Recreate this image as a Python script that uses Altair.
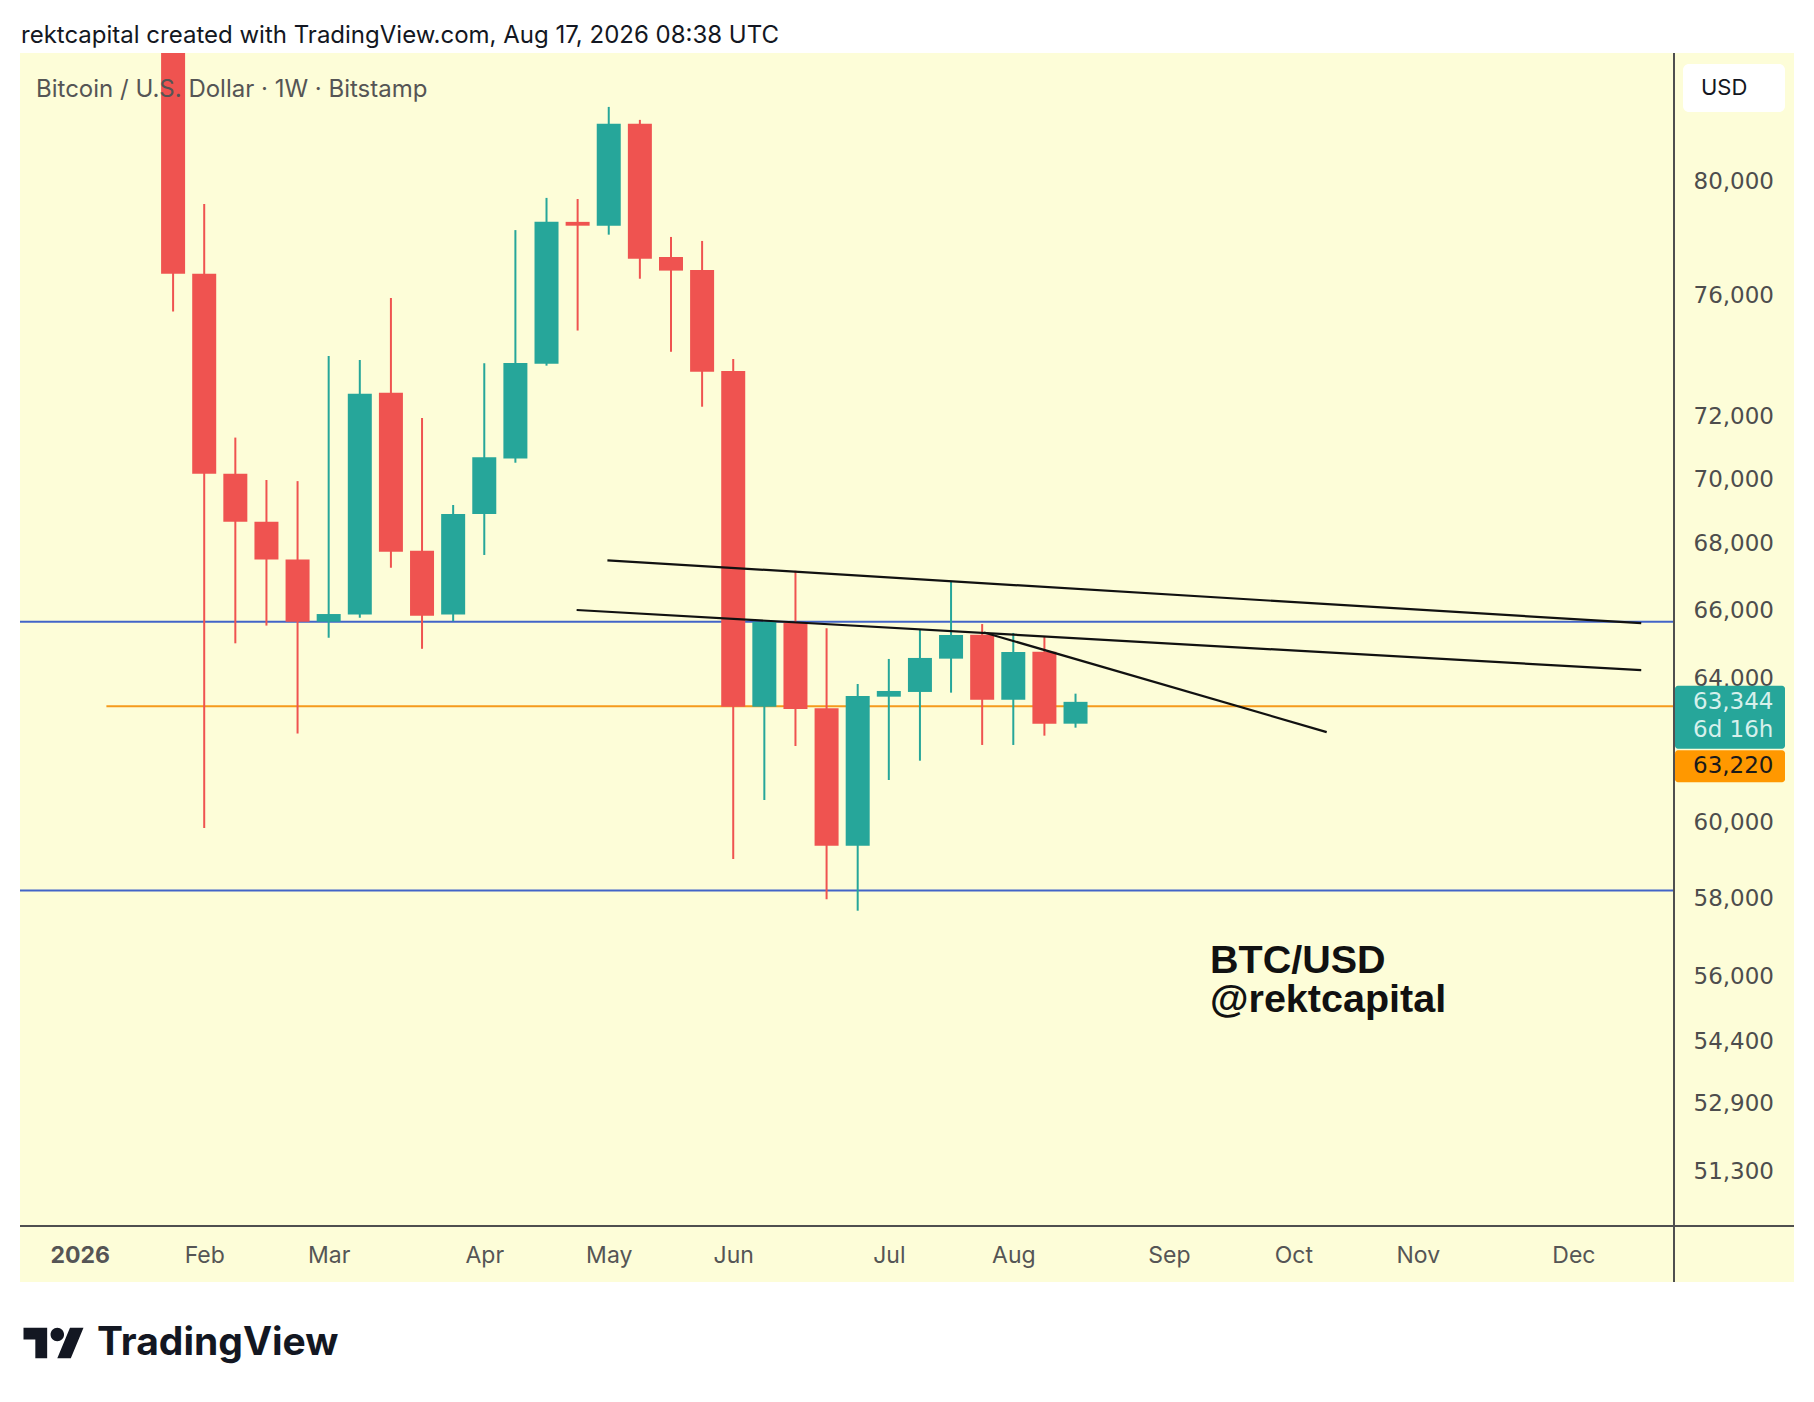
import altair as alt
import pandas as pd

# ---------------- data ----------------
weeks = ["2026-01-26", "2026-02-02", "2026-02-09", "2026-02-16", "2026-02-23",
         "2026-03-02", "2026-03-09", "2026-03-16", "2026-03-23", "2026-03-30",
         "2026-04-06", "2026-04-13", "2026-04-20", "2026-04-27", "2026-05-04",
         "2026-05-11", "2026-05-18", "2026-05-25", "2026-06-01", "2026-06-08",
         "2026-06-15", "2026-06-22", "2026-06-29", "2026-07-06", "2026-07-13",
         "2026-07-20", "2026-07-27", "2026-08-03", "2026-08-10", "2026-08-17"]
opens = [87500, 76760, 70170, 68680, 67520, 65665, 65880, 72770, 67790, 65880,
         68915, 70650, 73720, 78570, 78435, 82110, 77340, 76890, 73485, 63206,
         65634, 63161, 59383, 63491, 63626, 64584, 65282, 63406, 64787, 62726]
highs = [89500, 79200, 71320, 69975, 69940, 73980, 73850, 75930, 71950, 69195,
         73740, 78280, 79420, 79380, 82730, 82250, 78040, 77900, 73880, 65700,
         67183, 65469, 63854, 64575, 65449, 66853, 65595, 65333, 65244, 63577]
lows = [75470, 59860, 65030, 65550, 62450, 65195, 65780, 67270, 64870, 65680,
        67660, 70520, 73660, 74830, 78120, 76590, 74120, 72315, 59030, 60614,
        62101, 57972, 57676, 61161, 61693, 63606, 62130, 62130, 62390, 62614]
closes = [76760, 70170, 68680, 67520, 65665, 65890, 72740, 67760, 65840, 68915,
          70690, 73750, 78570, 78435, 82110, 77280, 76870, 73460, 63206, 65665,
          63141, 59383, 63511, 63654, 64604, 65273, 63406, 64778, 62726, 63344]

blue_levels = [65665, 58200]
orange_level = [63220]
orange_start = ["2026-01-11T00:00:00Z"]
last_price = [63344]
countdown = "6d 16h"

trend_start_dates = ["2026-05-03T16:48:00Z", "2026-04-26T18:30:00Z", "2026-07-27T10:20:00Z"]
trend_start_prices = [67498, 66009, 65347]
trend_end_dates = ["2026-12-22T06:00:00Z", "2026-12-22T06:00:00Z", "2026-10-12T12:00:00Z"]
trend_end_prices = [65620, 64250, 62490]

y_ticks = [80000, 76000, 72000, 70000, 68000, 66000, 64000, 60000, 58000,
           56000, 54400, 52900, 51300]
month_ticks = ["2026-01-05", "2026-02-02", "2026-03-02", "2026-04-06", "2026-05-04",
               "2026-06-01", "2026-07-06", "2026-08-03", "2026-09-07", "2026-10-05",
               "2026-11-02", "2026-12-07"]

header = "rektcapital created with TradingView.com, Aug 17, 2026 08:38 UTC"
symbol_title = "Bitcoin / U.S. Dollar · 1W · Bitstamp"
note_lines = ["BTC/USD", "@rektcapital"]

# ---------------- helpers ----------------
def ms(s):
    t = pd.Timestamp(s)
    if t.tzinfo is None:
        t = t.tz_localize("UTC")
    return int(t.value // 10**6)

W, H = 1654, 1173
PL, PT, PR, PB = 12, 45, 120, 150
GREEN = "#26a69a"
RED = "#ef5350"
BLUE = "#4264c8"
ORANGE = "#f59a1c"
BG = "#fdfdd8"
AXC = "#4f4f4f"

x_scale = alt.Scale(type="utc", domain=[ms("2025-12-23T16:30:00Z"), ms("2026-12-28T12:00:00Z")])
y_scale = alt.Scale(type="log", domain=[50066, 84756], nice=False, zero=False)

x_axis = alt.Axis(
    values=[ms(d) for d in month_ticks],
    labelExpr="utcmonth(datum.value) == 0 ? utcFormat(datum.value, '%Y') : utcFormat(datum.value, '%b')",
    labelFontWeight={"condition": {"test": "utcmonth(datum.value) == 0", "value": "bold"}, "value": "normal"},
    labelFont="Inter", labelFontSize=23, labelColor="#555555",
    labelPadding=29, labelBaseline="middle", labelAlign="center",
    ticks=False, tickSize=0, domain=False, grid=False, title=None,
    labelOverlap=False, labelFlush=False, zindex=0)
y_axis = alt.Axis(
    values=y_ticks, format=",d", orient="right",
    labelFont="DejaVu Sans", labelFontSize=23, labelColor="#4d4d4d",
    labelPadding=19, labelAlign="left", labelBaseline="middle",
    ticks=False, tickSize=0, domain=False, grid=False, title=None,
    labelOverlap=False, labelFlush=False, zindex=0)

candles = pd.DataFrame({"week": weeks, "open": opens, "high": highs,
                        "low": lows, "close": closes})
candles["dir"] = ["up" if c >= o else "down" for o, c in zip(opens, closes)]
dir_color = alt.Color("dir:N", scale=alt.Scale(domain=["up", "down"], range=[GREEN, RED]), legend=None)

one = pd.DataFrame({"a": [0]})

def xq(field):
    return alt.X(field, type="temporal", scale=x_scale, axis=x_axis)

def yq(field):
    return alt.Y(field, type="quantitative", scale=y_scale, axis=y_axis)

# white surroundings (chart background is the yellow of the TradingView pane)
white_top = alt.Chart(one).mark_rect(color="white").encode(
    x=alt.value(-PL), x2=alt.value(W + PR), y=alt.value(-PT), y2=alt.value(0))
white_left = alt.Chart(one).mark_rect(color="white").encode(
    x=alt.value(-PL), x2=alt.value(0), y=alt.value(-PT), y2=alt.value(H + PB))
white_bottom = alt.Chart(one).mark_rect(color="white").encode(
    x=alt.value(-PL), x2=alt.value(W + PR), y=alt.value(1229), y2=alt.value(H + PB))

blue_lines = alt.Chart(pd.DataFrame({"level": blue_levels})).mark_rule(
    color=BLUE, strokeWidth=2).encode(y=yq("level"), x=alt.value(0), x2=alt.value(W))

orange_line = alt.Chart(pd.DataFrame({"level": orange_level, "start": orange_start})).mark_rule(
    color=ORANGE, strokeWidth=2).encode(y=yq("level"), x=xq("start"), x2=alt.value(W))

wicks = alt.Chart(candles).mark_rule(strokeWidth=2, clip=True).encode(
    x=xq("week"), y=yq("low"), y2="high", color=dir_color)

bodies = alt.Chart(candles).mark_bar(size=24, clip=True).encode(
    x=xq("week"), y=yq("open"), y2="close", color=dir_color)

trends = alt.Chart(pd.DataFrame({"sd": trend_start_dates, "sp": trend_start_prices,
                                 "ed": trend_end_dates, "ep": trend_end_prices})).mark_rule(
    color="#111111", strokeWidth=2.2).encode(x=xq("sd"), y=yq("sp"), x2="ed", y2="ep")

vline = alt.Chart(one).mark_rule(color=AXC, strokeWidth=2).encode(
    x=alt.value(W), y=alt.value(0), y2=alt.value(1229))
hline = alt.Chart(one).mark_rule(color=AXC, strokeWidth=2).encode(
    y=alt.value(H), x=alt.value(0), x2=alt.value(1774))

header_txt = alt.Chart(one).mark_text(
    text=header, align="left", baseline="middle", font="Inter", fontSize=24,
    color="#131722").encode(x=alt.value(1), y=alt.value(-17))
symbol_txt = alt.Chart(one).mark_text(
    text=symbol_title, align="left", baseline="middle", font="Inter", fontSize=24,
    color="#555555").encode(x=alt.value(16), y=alt.value(37))

note = alt.Chart(one).mark_text(
    text=note_lines, align="left", baseline="alphabetic", font="Liberation Sans",
    fontSize=39.5, lineHeight=39, fontWeight="bold", color="#111111").encode(
    x=alt.value(1190), y=alt.value(920))

usd_box = alt.Chart(one).mark_rect(color="#ffffff", cornerRadius=6).encode(
    x=alt.value(1663), x2=alt.value(1765), y=alt.value(11), y2=alt.value(59))
usd_txt = alt.Chart(one).mark_text(
    text="USD", align="left", baseline="middle", font="Inter", fontSize=22,
    color="#131722").encode(x=alt.value(1681), y=alt.value(35))

lp = pd.DataFrame({"price": last_price})
op = pd.DataFrame({"price": orange_level})
green_box = alt.Chart(lp).mark_rect(color=GREEN, cornerRadius=3, yOffset=-16, y2Offset=47).encode(
    x=alt.value(1655), x2=alt.value(1765), y=yq("price"), y2="price")
green_txt = alt.Chart(lp).mark_text(
    align="left", baseline="middle", font="DejaVu Sans", fontSize=23, color="#d6f0ec").encode(
    x=alt.value(1673), y=yq("price"), text=alt.Text("price:Q", format=",d"))
green_txt2 = alt.Chart(lp).mark_text(
    text=countdown, align="left", baseline="middle", font="DejaVu Sans", fontSize=23,
    color="#d6f0ec", dy=28).encode(x=alt.value(1673), y=yq("price"))
orange_box = alt.Chart(op).mark_rect(color="#ff9800", cornerRadius=3, yOffset=44, y2Offset=76).encode(
    x=alt.value(1655), x2=alt.value(1765), y=yq("price"), y2="price")
orange_txt = alt.Chart(op).mark_text(
    align="left", baseline="middle", font="DejaVu Sans", fontSize=23, color="#1a1a1a", dy=60).encode(
    x=alt.value(1673), y=yq("price"), text=alt.Text("price:Q", format=",d"))

tv_path = ("M-0.2113,0.507L-0.6056,0.507L-0.6056,-0.1127L-1,-0.1127L-1,-0.507L-0.2113,-0.507Z"
           "M0.1268,0.507L0.5493,-0.507L1,-0.507L0.5775,0.507Z"
           "M-0.0986,-0.2817A0.2254,0.2254,0,1,0,0.3522,-0.2817A0.2254,0.2254,0,1,0,-0.0986,-0.2817Z")
logo = alt.Chart(one).mark_point(shape=tv_path, size=3600, filled=True, color="#131722",
                                 opacity=1, strokeWidth=0).encode(
    x=alt.value(33.5), y=alt.value(1290))
logo_txt = alt.Chart(one).mark_text(
    text="TradingView", align="left", baseline="middle", font="Inter", fontSize=39,
    fontWeight="bold", color="#131722").encode(x=alt.value(77), y=alt.value(1290))

chart = alt.layer(
    white_top, white_left, white_bottom,
    blue_lines, orange_line, wicks, bodies, trends, vline, hline,
    header_txt, symbol_txt, note, usd_box, usd_txt,
    green_box, green_txt, green_txt2, orange_box, orange_txt, logo, logo_txt
).properties(
    width=W, height=H,
    autosize=alt.AutoSizeParams(type="none"),
    padding={"left": PL, "top": PT, "right": PR, "bottom": PB},
    background=BG,
).configure_view(stroke=None)

chart.save("out.html", embed_options={"renderer": "svg", "actions": False})
